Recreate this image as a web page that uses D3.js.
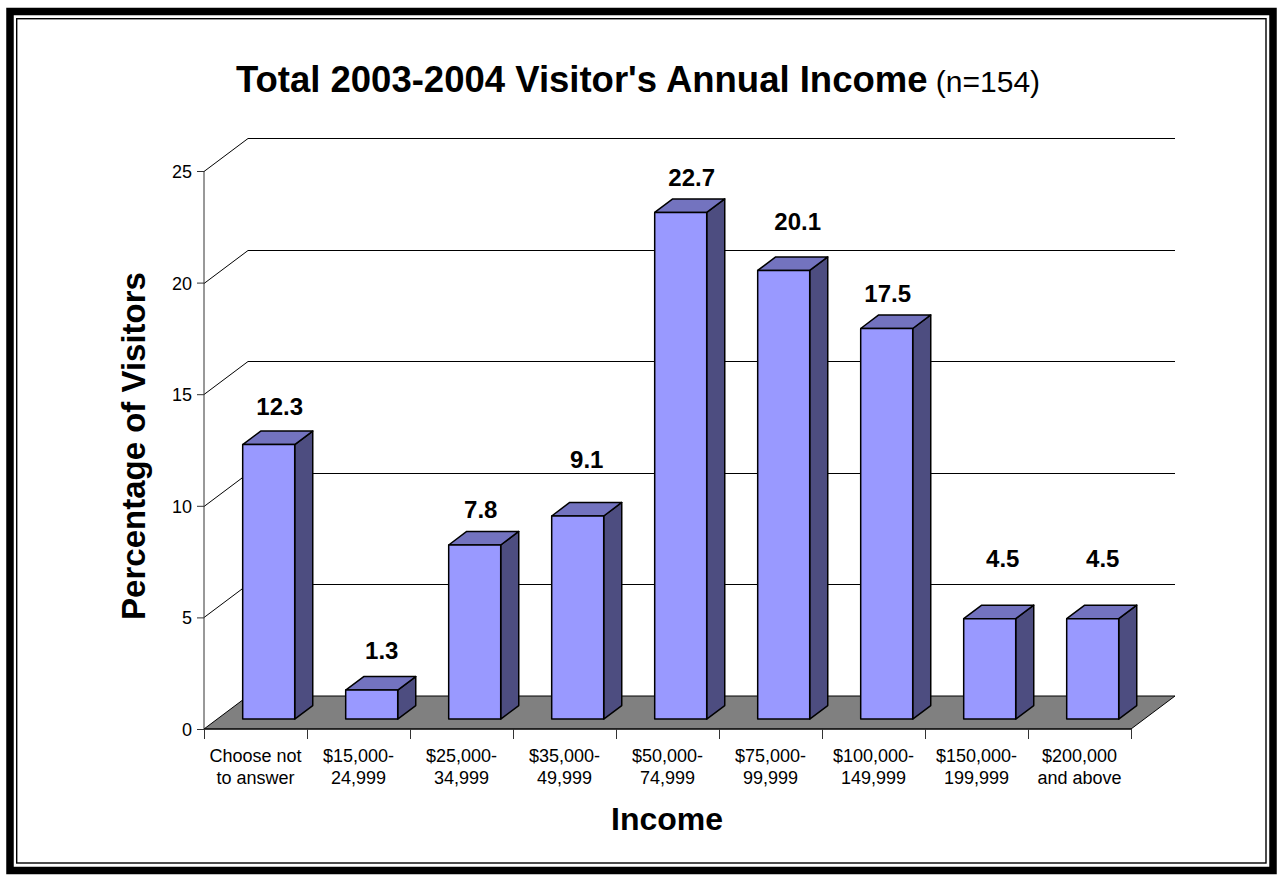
<!DOCTYPE html>
<html>
<head>
<meta charset="utf-8">
<script src="https://cdn.jsdelivr.net/npm/d3@7"></script>
<style>
  body { margin: 0; background: #fff; }
  svg { display: block; }
  text { font-family: "Liberation Sans", Arial, Helvetica, sans-serif; fill: #000; }
</style>
</head>
<body>
<svg id="chart" width="1281" height="882"></svg>
<script>
// Income brackets (two-line axis labels) and share of visitors in each
const categories = [
  "Choose not\nto answer",
  "$15,000-\n24,999",
  "$25,000-\n34,999",
  "$35,000-\n49,999",
  "$50,000-\n74,999",
  "$75,000-\n99,999",
  "$100,000-\n149,999",
  "$150,000-\n199,999",
  "$200,000\nand above"
];
const values = [12.3, 1.3, 7.8, 9.1, 22.7, 20.1, 17.5, 4.5, 4.5];
const yTicks = [0, 5, 10, 15, 20, 25];

const titleMain = "Total 2003-2004 Visitor's Annual Income";
const titleNote = "(n=154)";
const yTitle = "Percentage of Visitors";
const xTitle = "Income";

// ---- layout ----
const svg = d3.select("#chart");
const plot = { left: 204, right: 1131, floor: 729, top: 171 };
const depth = { dx: 44, dy: -33 };          // oblique offset of the back wall
const barPlane = 0.3, barDepth = 0.41;      // bar position / thickness as share of depth

const x = d3.scaleBand().domain(categories).range([plot.left, plot.right]);
const y = d3.scaleLinear().domain([0, 25]).range([plot.floor, plot.top]);

// ---- chart border (thick frame with thin inner rule) ----
svg.append("rect").attr("x", 10).attr("y", 11.5).attr("width", 1263).attr("height", 859)
  .attr("fill", "none").attr("stroke", "#000").attr("stroke-width", 7.5);
svg.append("rect").attr("x", 16.7).attr("y", 18.7).attr("width", 1249.3).attr("height", 844.3)
  .attr("fill", "none").attr("stroke", "#000").attr("stroke-width", 1.4);

// ---- title ----
const t = svg.append("text").attr("x", 638).attr("y", 92).attr("text-anchor", "middle");
t.append("tspan").attr("font-size", 36.5).attr("font-weight", "bold").text(titleMain);
t.append("tspan").attr("font-size", 30).text(" " + titleNote);

// ---- back wall gridlines and left-wall diagonals ----
const grid = svg.append("g").attr("stroke", "#000").attr("stroke-width", 1).attr("fill", "none");
yTicks.filter(v => v > 0).forEach(v => {
  const yy = Math.round(y(v)) + 0.5;
  grid.append("line")
    .attr("x1", plot.left + depth.dx).attr("y1", yy + depth.dy)
    .attr("x2", plot.right + depth.dx).attr("y2", yy + depth.dy);
  grid.append("line")
    .attr("x1", plot.left).attr("y1", yy)
    .attr("x2", plot.left + depth.dx).attr("y2", yy + depth.dy);
});

// ---- floor ----
const y0 = y(0);
svg.append("polygon")
  .attr("points", [
    [plot.left, y0], [plot.right, y0],
    [plot.right + depth.dx, y0 + depth.dy], [plot.left + depth.dx, y0 + depth.dy]
  ].map(p => p.join(",")).join(" "))
  .attr("fill", "#808080").attr("stroke", "#000").attr("stroke-width", 1);

// ---- y axis ----
const yAxis = svg.append("g").attr("transform", `translate(${plot.left},0)`)
  .call(d3.axisLeft(y).tickValues(yTicks).tickSize(7).tickPadding(5).tickFormat(d3.format("d")));
yAxis.select(".domain").attr("stroke", "#333").attr("d", `M0,${y0}V${y(25)}`);
yAxis.selectAll(".tick line").attr("stroke", "#333");
yAxis.selectAll(".tick text").attr("font-size", 18).attr("font-family", null).attr("dy", "0.36em");

// ---- x axis (front edge of floor) with ticks at category boundaries ----
const xAxis = svg.append("g");
xAxis.append("line").attr("x1", plot.left).attr("x2", plot.right)
  .attr("y1", y0).attr("y2", y0).attr("stroke", "#000");
const bounds = categories.map(c => x(c)).concat([plot.right]);
xAxis.selectAll("line.tk").data(bounds).join("line").attr("class", "tk")
  .attr("x1", d => Math.round(d) + 0.5).attr("x2", d => Math.round(d) + 0.5)
  .attr("y1", y0).attr("y2", y0 + 10).attr("stroke", "#333");
const xl = xAxis.selectAll("text.cat").data(categories).join("text").attr("class", "cat")
  .attr("x", d => x(d) + x.bandwidth() / 2).attr("y", 762)
  .attr("text-anchor", "middle").attr("font-size", 18);
xl.each(function (d) {
  const lines = d.split("\n");
  d3.select(this).selectAll("tspan").data(lines).join("tspan")
    .attr("x", x(d) + x.bandwidth() / 2).attr("dy", (l, i) => i === 0 ? 0 : 22).text(l => l);
});

// ---- 3-D bars ----
const bw = x.bandwidth();
const barW = bw * 0.505;
const inset = (bw - barW) / 2;
const pdx = depth.dx * barPlane, pdy = depth.dy * barPlane;
const bdx = depth.dx * barDepth, bdy = depth.dy * barDepth;

const bars = svg.append("g").attr("stroke", "#000").attr("stroke-width", 1.5).attr("stroke-linejoin", "round");
categories.forEach((c, i) => {
  const v = values[i];
  const x0 = x(c) + inset + pdx;
  const yt = y(v) + pdy, yb = y(0) + pdy;
  const g = bars.append("g");
  g.append("polygon").attr("fill", "#4D4D80").attr("points", [
    [x0 + barW, yt], [x0 + barW + bdx, yt + bdy], [x0 + barW + bdx, yb + bdy], [x0 + barW, yb]
  ].map(p => p.join(",")).join(" "));
  g.append("polygon").attr("fill", "#7373BF").attr("points", [
    [x0, yt], [x0 + barW, yt], [x0 + barW + bdx, yt + bdy], [x0 + bdx, yt + bdy]
  ].map(p => p.join(",")).join(" "));
  g.append("rect").attr("fill", "#9999FF")
    .attr("x", x0).attr("y", yt).attr("width", barW).attr("height", yb - yt);
});

// ---- value labels above each bar ----
const labelLift = [16, 18, 13, 34, 13, 27, 13, 38, 38];
const labelShift = [2, 1, -3, 0, 2, 5, -8, 4, 1];
svg.append("g").selectAll("text").data(values).join("text")
  .attr("x", (v, i) => x(categories[i]) + inset + pdx + (barW + bdx) / 2 + labelShift[i])
  .attr("y", (v, i) => y(v) + pdy + bdy - labelLift[i])
  .attr("text-anchor", "middle").attr("font-size", 24).attr("font-weight", "bold")
  .text(v => d3.format(".1f")(v));

// ---- axis titles ----
svg.append("text").attr("transform", "translate(145,446) rotate(-90)")
  .attr("text-anchor", "middle").attr("font-size", 33).attr("font-weight", "bold").text(yTitle);
svg.append("text").attr("x", 667).attr("y", 830)
  .attr("text-anchor", "middle").attr("font-size", 32).attr("font-weight", "bold").text(xTitle);
</script>
</body>
</html>
